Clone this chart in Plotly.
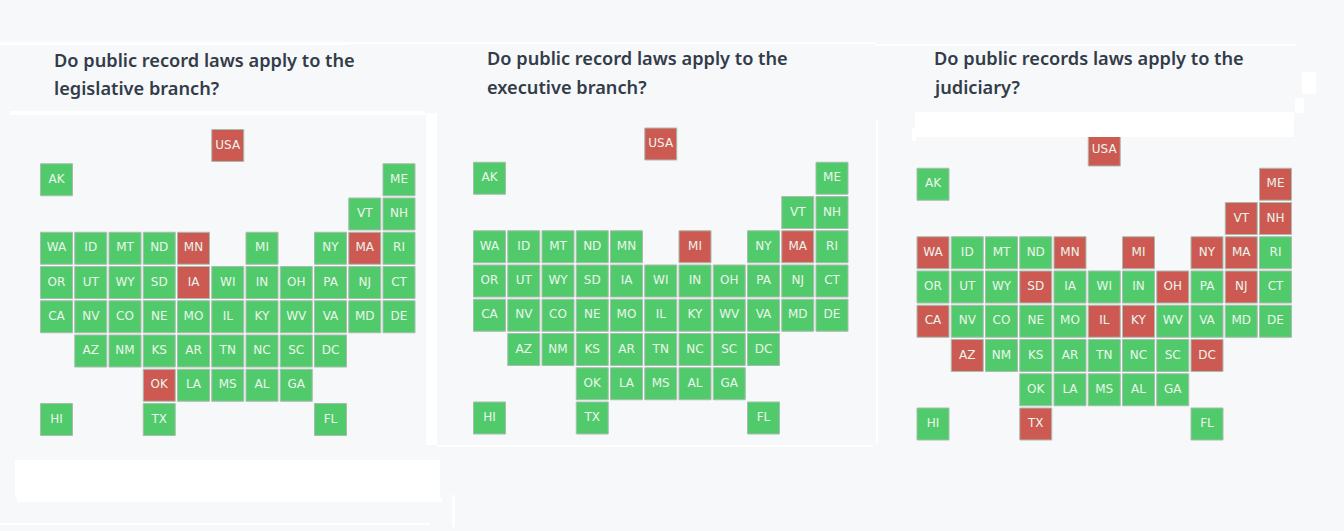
import plotly.graph_objects as go

W = 1344
H = 531

states = ["USA", "AK", "ME", "VT", "NH",
          "WA", "ID", "MT", "ND", "MN", "MI", "NY", "MA", "RI",
          "OR", "UT", "WY", "SD", "IA", "WI", "IN", "OH", "PA", "NJ", "CT",
          "CA", "NV", "CO", "NE", "MO", "IL", "KY", "WV", "VA", "MD", "DE",
          "AZ", "NM", "KS", "AR", "TN", "NC", "SC", "DC",
          "OK", "LA", "MS", "AL", "GA",
          "HI", "TX", "FL"]
cols = [5, 0, 10, 9, 10,
        0, 1, 2, 3, 4, 6, 8, 9, 10,
        0, 1, 2, 3, 4, 5, 6, 7, 8, 9, 10,
        0, 1, 2, 3, 4, 5, 6, 7, 8, 9, 10,
        1, 2, 3, 4, 5, 6, 7, 8,
        3, 4, 5, 6, 7,
        0, 3, 8]
rows = [0, 1, 1, 2, 2,
        3, 3, 3, 3, 3, 3, 3, 3, 3,
        4, 4, 4, 4, 4, 4, 4, 4, 4, 4, 4,
        5, 5, 5, 5, 5, 5, 5, 5, 5, 5, 5,
        6, 6, 6, 6, 6, 6, 6, 6,
        7, 7, 7, 7, 7,
        8, 8, 8]

no_legislative = ["USA", "MN", "MA", "IA", "OK"]
no_executive = ["USA", "MI", "MA"]
no_judiciary = ["USA", "ME", "VT", "NH", "WA", "MN", "MI", "NY", "MA",
                "SD", "OH", "NJ", "CA", "IL", "KY", "AZ", "DC", "TX"]

titles = [["Do public record laws apply to the", "legislative branch?"],
          ["Do public record laws apply to the", "executive branch?"],
          ["Do public records laws apply to the", "judiciary?"]]

GREEN = "#51ca6b"
RED = "#cc5a52"
BG = "#f7f8fa"

STEP = 34.25

# left column centre, top row centre, title x, title line centres (pixels)
panels = [(56.5, 145.5, 54, (60, 88), no_legislative),
          (489.5, 144, 487, (58, 87), no_executive),
          (933, 150, 934, (58, 87), no_judiciary)]

# stray white patches left in the picture: x0, y0, x1, y1
white_bands = [(0, 42, 350, 45), (350, 42, 875, 44), (875, 44, 1296, 46),
               (10, 111, 425, 115), (426, 113, 437, 445), (15, 460, 440, 497),
               (17, 497, 442, 502), (437, 445, 873, 447), (876, 120, 878, 445),
               (915, 112, 1294, 137), (1295, 98, 1304, 113), (1302, 72, 1316, 94),
               (912, 128, 916, 141), (0, 523, 430, 525), (452, 495, 455, 527)]

fig = go.Figure()

for i, (left, top, title_x, title_ys, reds) in enumerate(panels):
    suffix = "" if i == 0 else str(i + 1)
    x0 = left - STEP
    x1 = left + 11 * STEP
    y0 = top - STEP
    y1 = top + 9 * STEP
    tile_colors = [RED if s in reds else GREEN for s in states]
    fig.add_trace(go.Scatter(
        x=cols, y=rows, text=states, mode="markers+text",
        xaxis="x" + suffix, yaxis="y" + suffix,
        marker=dict(symbol="square", size=32, color=tile_colors,
                    line=dict(color="#a9bcae", width=1)),
        textposition="middle center",
        textfont=dict(family="DejaVu Sans", size=12, color="#ebf6ec"),
        cliponaxis=False, showlegend=False, hoverinfo="text",
    ))
    fig.update_layout({
        "xaxis" + suffix: dict(domain=[x0 / W, x1 / W], range=[-1, 11], visible=False),
        "yaxis" + suffix: dict(domain=[1 - y1 / H, 1 - y0 / H], range=[9, -1], visible=False),
    })
    for line, line_y in zip(titles[i], title_ys):
        fig.add_annotation(
            text=line, xref="paper", yref="paper", x=(title_x - 2) / W, y=1 - line_y / H,
            xanchor="left", yanchor="middle", align="left", showarrow=False,
            font=dict(family="Noto Sans", size=18.2, color="#333c49", weight=600),
        )

for bx0, by0, bx1, by1 in white_bands:
    fig.add_shape(type="rect", xref="paper", yref="paper", layer="above",
                  x0=bx0 / W, x1=bx1 / W, y0=1 - by1 / H, y1=1 - by0 / H,
                  fillcolor="white", line_width=0)

fig.update_layout(width=W, height=H, autosize=False,
                  margin=dict(l=0, r=0, t=0, b=0),
                  paper_bgcolor=BG, plot_bgcolor=BG)

fig.write_html("out.html", config={"displayModeBar": False},
               post_script="document.body.style.margin='0';")
